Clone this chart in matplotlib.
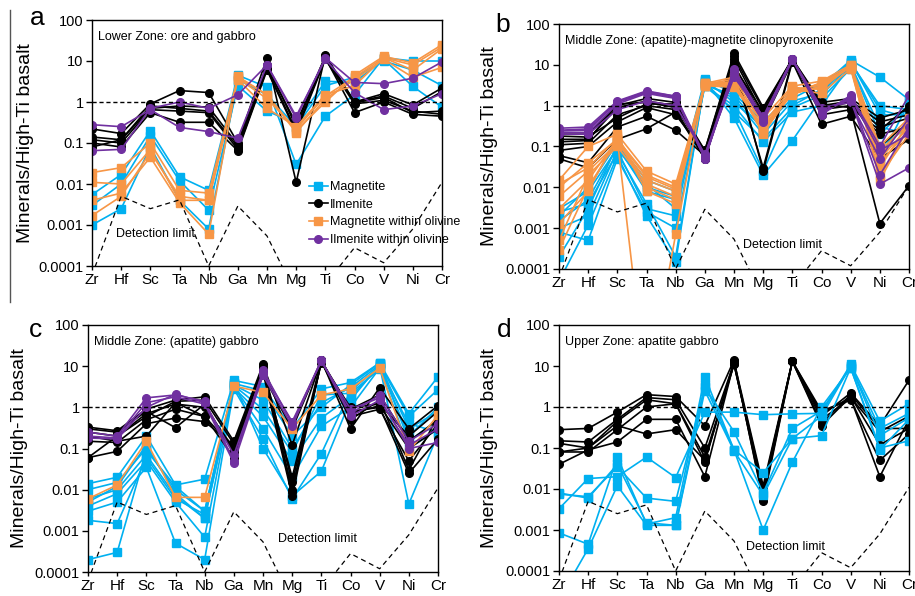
import matplotlib
matplotlib.use('Agg')
import matplotlib.pyplot as plt
from matplotlib.lines import Line2D
from matplotlib.ticker import FixedLocator, FuncFormatter, NullLocator

plt.rcParams['font.family'] = ['Liberation Sans', 'DejaVu Sans']

elements = ['Zr', 'Hf', 'Sc', 'Ta', 'Nb', 'Ga', 'Mn', 'Mg', 'Ti', 'Co', 'V', 'Ni', 'Cr']
detection_limit = [0.00006, 0.005, 0.0025, 0.0041, 0.0001, 0.0029, 0.00054, 0.00002,
                   0.000036, 0.00028, 0.00012, 0.0008, 0.011]

# panel a: Lower Zone
a_magnetite = [
    [0.0055, 0.017, 0.2, 0.015, 0.007, 4.5, 2.3, 0.03, 0.45, 1.5, 12, 10, 10],
    [0.003, 0.01, 0.15, 0.012, 0.0023, 2.5, 0.6, 0.3, 3.2, 3.0, 11, 2.4, 0.75],
    [0.001, 0.0025, 0.08, 0.004, 0.0008, 3.5, 1.5, 0.25, 2.5, 4.0, 10, 6, 2.5],
]
a_ilmenite = [
    [0.22, 0.17, 0.9, 1.9, 1.7, 0.1, 12, 0.011, 14, 1.0, 1.6, 0.85, 2.2],
    [0.14, 0.12, 0.8, 0.7, 0.6, 0.08, 7, 0.3, 13, 0.95, 1.3, 0.55, 0.6],
    [0.12, 0.1, 0.65, 0.6, 0.55, 0.07, 6.5, 0.2, 12, 0.55, 1.0, 0.5, 0.45],
    [0.1, 0.08, 0.55, 0.32, 0.32, 0.065, 6, 0.18, 11, 0.9, 1.1, 0.6, 0.5],
    [0.08, 0.12, 0.7, 0.8, 0.75, 0.09, 8, 0.25, 13, 1.0, 1.4, 0.7, 1.8],
]
a_mag_olivine = [
    [0.019, 0.025, 0.1, 0.007, 0.006, 4.0, 1.5, 0.2, 1.0, 4.5, 13, 9, 25],
    [0.011, 0.01, 0.07, 0.004, 0.004, 3.5, 0.7, 0.25, 1.5, 2.5, 12, 6, 20],
    [0.004, 0.006, 0.045, 0.0035, 0.0006, 4.2, 1.5, 0.18, 1.2, 3.5, 11, 4, 7],
    [0.0017, 0.005, 0.06, 0.005, 0.004, 3.8, 1.2, 0.22, 1.4, 4.0, 12, 8, 22],
]
a_ilm_olivine = [
    [0.28, 0.25, 0.65, 0.24, 0.19, 0.13, 8, 0.4, 12, 3.0, 2.8, 3.8, 9.5],
    [0.065, 0.07, 0.7, 1.0, 0.7, 1.5, 8, 0.45, 11, 1.7, 0.65, 0.8, 1.6],
]

# panel b: Middle Zone clinopyroxenite
b_magnetite = [
    [0.002, 0.01, 0.12, 0.015, 0.008, 4.5, 2.0, 0.4, 2.0, 3.0, 13, 5.0, 1.4],
    [0.0015, 0.005, 0.1, 0.008, 0.005, 3.5, 1.5, 0.2, 1.3, 2.0, 12, 0.8, 0.5],
    [0.001, 0.002, 0.08, 0.003, 0.002, 3.0, 1.0, 0.13, 0.7, 1.0, 10, 0.3, 0.2],
    [0.00005, 0.0012, 0.06, 0.002, 0.00015, 4.0, 0.5, 0.02, 0.14, 1.5, 8, 0.1, 0.3],
    [0.0008, 0.0005, 0.05, 0.0025, 0.001, 3.0, 0.8, 0.025, 1.0, 2.5, 9, 0.05, 1.2],
    [0.003, 0.008, 0.09, 0.01, 0.006, 4.2, 1.2, 0.3, 1.5, 3.5, 11, 1.0, 0.8],
    [0.0025, 0.004, 0.07, 0.004, 0.0002, 3.8, 0.7, 0.15, 0.9, 1.8, 10, 0.2, 1.0],
    [0.0002, 0.003, 0.11, 0.012, 0.003, 3.2, 1.8, 0.25, 2.5, 2.8, 12, 0.6, 0.6],
]
b_ilmenite = [
    [0.2, 0.2, 1.0, 1.5, 1.2, 0.08, 19, 0.9, 14, 1.2, 1.5, 0.5, 0.8],
    [0.15, 0.15, 0.9, 1.3, 1.0, 0.06, 14, 0.6, 13, 0.9, 1.2, 0.3, 0.5],
    [0.11, 0.12, 0.6, 1.0, 0.8, 0.05, 10, 0.5, 14, 0.8, 1.0, 0.2, 0.3],
    [0.08, 0.1, 0.4, 0.9, 0.6, 0.07, 8, 0.03, 13, 0.6, 0.8, 0.0013, 0.011],
    [0.06, 0.04, 0.3, 0.55, 0.25, 0.06, 12, 0.025, 12, 0.35, 0.55, 0.05, 0.15],
    [0.05, 0.03, 0.15, 0.27, 0.7, 0.05, 9, 0.7, 13, 1.0, 1.3, 0.4, 0.6],
    [0.13, 0.14, 1.1, 1.2, 0.9, 0.08, 16, 0.8, 14, 1.1, 0.9, 0.25, 1.0],
    [0.18, 0.17, 0.5, 1.1, 1.1, 0.07, 6, 0.4, 12, 0.7, 1.4, 0.1, 0.4],
]
b_mag_olivine = [
    [0.015, 0.1, 0.2, 0.025, 0.012, 3.5, 5.0, 0.5, 3.0, 4.0, 10, 0.1, 0.5],
    [0.01, 0.04, 0.15, 0.02, 0.01, 3.2, 3.0, 0.3, 2.0, 3.0, 9, 0.05, 0.3],
    [0.006, 0.025, 0.12, 0.015, 0.008, 3.0, 4.0, 0.2, 2.5, 2.0, 8, 0.02, 0.2],
    [0.003, 0.015, 0.15, 1e-7, 0.0007, 3.5, 3.5, 0.25, 2.2, 3.5, 9, 0.03, 0.4],
    [0.0013, 0.008, 0.18, 0.01, 0.005, 3.3, 4.5, 0.35, 2.8, 2.5, 10, 0.04, 0.25],
    [0.0005, 0.02, 0.1, 0.012, 0.006, 3.4, 3.2, 0.4, 1.8, 3.8, 8.5, 0.08, 0.35],
    [0.0003, 0.01, 0.14, 0.018, 0.009, 3.1, 2.8, 0.3, 2.4, 3.2, 9.5, 0.06, 0.45],
    [0.012, 0.03, 0.16, 0.008, 0.004, 3.6, 3.8, 0.22, 2.0, 2.8, 9, 0.015, 0.3],
]
b_ilm_olivine = [
    [0.28, 0.3, 1.3, 2.3, 1.7, 0.06, 8, 0.5, 14, 0.6, 1.8, 0.1, 1.8],
    [0.25, 0.27, 1.2, 2.1, 1.6, 0.05, 7, 0.45, 14, 0.7, 1.5, 0.02, 0.3],
    [0.22, 0.22, 1.1, 2.0, 1.5, 0.055, 6, 0.4, 13, 0.8, 1.4, 0.012, 0.03],
    [0.2, 0.2, 0.8, 1.3, 1.0, 0.065, 5, 0.55, 14, 0.9, 1.2, 0.05, 0.5],
    [0.24, 0.25, 1.25, 2.2, 1.7, 0.05, 7.5, 0.5, 14, 0.65, 1.6, 0.08, 0.2],
]

# panel c: Middle Zone gabbro
c_magnetite = [
    [0.014, 0.02, 0.2, 0.013, 0.018, 4.5, 3.2, 0.3, 2.8, 4.0, 12, 0.7, 5.5],
    [0.01, 0.015, 0.1, 0.01, 0.003, 3.5, 1.5, 0.1, 1.3, 3.0, 11, 0.6, 2.7],
    [0.006, 0.01, 0.07, 0.007, 0.002, 3.0, 0.6, 0.05, 0.55, 1.8, 10, 0.2, 1.0],
    [0.004, 0.008, 0.05, 0.005, 0.0007, 3.2, 0.3, 0.02, 0.35, 1.0, 9, 0.1, 0.3],
    [0.003, 0.005, 0.035, 0.0005, 0.0002, 2.8, 0.17, 0.006, 0.075, 2.5, 10, 0.0045, 0.22],
    [0.0018, 0.0015, 0.06, 0.006, 0.0025, 4.0, 0.1, 0.007, 0.028, 1.5, 11, 0.3, 0.8],
    [0.0002, 0.0003, 0.09, 0.012, 0.003, 3.8, 2.5, 0.2, 1.0, 3.5, 12, 0.15, 0.5],
    [0.005, 0.012, 0.12, 0.008, 0.002, 3.4, 0.9, 0.08, 2.0, 2.2, 8.5, 0.4, 0.25],
]
c_ilmenite = [
    [0.33, 0.27, 0.9, 1.5, 1.8, 0.15, 11, 0.12, 14, 0.3, 3.0, 0.3, 1.1],
    [0.25, 0.2, 0.7, 1.2, 1.0, 0.1, 9, 0.01, 13, 0.5, 1.5, 0.03, 0.6],
    [0.15, 0.14, 0.5, 0.9, 0.6, 0.06, 7, 0.007, 13, 0.8, 1.0, 0.025, 0.17],
    [0.06, 0.085, 0.4, 0.55, 0.45, 0.12, 8, 0.02, 14, 0.6, 0.9, 0.05, 0.4],
    [0.3, 0.25, 0.8, 0.32, 1.2, 0.08, 10, 0.015, 12, 1.0, 1.2, 0.2, 0.8],
    [0.2, 0.15, 0.2, 1.3, 0.6, 0.1, 6, 0.3, 14, 0.7, 1.1, 0.1, 0.3],
    [0.06, 0.2, 0.6, 1.4, 1.5, 0.13, 9.5, 0.009, 13.5, 0.9, 2.0, 0.15, 0.5],
]
c_mag_olivine = [
    [0.006, 0.013, 0.15, 0.0065, 0.0065, 3.3, 2.3, 0.3, 2.0, 2.8, 9, 0.085, 0.65],
]
c_ilm_olivine = [
    [0.25, 0.2, 1.7, 2.0, 1.4, 0.05, 8, 0.4, 14, 0.7, 2.0, 0.15, 0.4],
    [0.2, 0.18, 1.3, 1.8, 1.2, 0.045, 6, 0.35, 14, 0.6, 1.5, 0.12, 0.3],
    [0.18, 0.17, 1.0, 2.1, 1.3, 0.07, 7, 0.45, 13, 0.9, 1.7, 0.1, 0.14],
]

# panel d: Upper Zone
d_magnetite = [
    [0.0075, 0.0065, 0.035, 0.006, 0.005, 3.0, 0.25, 0.008, 0.3, 0.8, 10, 0.3, 0.7],
    [0.0033, 0.018, 0.02, 0.06, 0.019, 0.75, 0.75, 0.65, 0.68, 0.7, 11, 0.45, 1.2],
    [0.00085, 0.00045, 0.06, 0.0014, 0.002, 5.5, 0.09, 0.001, 0.045, 1.0, 9, 0.1, 0.15],
    [0.00002, 0.00035, 0.012, 0.0013, 0.0013, 2.5, 0.085, 0.007, 0.17, 0.2, 9, 0.09, 0.5],
    [0.008, 0.006, 0.04, 0.0015, 0.0013, 3.5, 0.09, 0.025, 0.17, 0.6, 10, 0.2, 0.55],
]
d_ilmenite = [
    [0.28, 0.3, 0.75, 2.0, 1.8, 0.35, 14, 0.005, 13, 0.6, 2.2, 0.35, 4.5],
    [0.15, 0.14, 0.5, 1.7, 1.5, 0.1, 12, 0.01, 13, 0.35, 1.8, 0.12, 0.3],
    [0.13, 0.1, 0.45, 1.5, 1.2, 0.06, 11, 0.008, 13, 0.8, 1.5, 0.05, 0.22],
    [0.08, 0.08, 0.28, 1.0, 1.2, 0.045, 13, 0.012, 13, 0.5, 1.6, 0.02, 0.5],
    [0.04, 0.09, 0.14, 0.5, 0.5, 0.02, 12, 0.006, 13, 0.4, 2.0, 0.3, 0.3],
    [0.08, 0.1, 0.35, 0.22, 0.28, 0.05, 11, 0.009, 13, 0.7, 1.7, 0.25, 0.6],
]

blue = '#00B0F0'
orange = '#F79646'
purple = '#7030A0'

W, H = 915, 596
fig = plt.figure(figsize=(W / 100, H / 100), dpi=100)


def rect(left, top, right, bottom):
    return [left / W, 1 - bottom / H, (right - left) / W, (bottom - top) / H]


def fx(x):
    return x / W


def fy(y):
    return 1 - y / H


panels = [
    dict(box=(92, 20, 442, 266), letter='a', letter_xy=(37, 18), ylab_x=26,
         title='Lower Zone: ore and gabbro', det_xy=(116, 234),
         groups=[(a_magnetite, blue, 's'), (a_ilmenite, 'black', 'o'),
                 (a_mag_olivine, orange, 's'), (a_ilm_olivine, purple, 'o')]),
    dict(box=(559, 24, 909, 269), letter='b', letter_xy=(503, 25), ylab_x=489,
         title='Middle Zone: (apatite)-magnetite clinopyroxenite', det_xy=(743, 245),
         groups=[(b_magnetite, blue, 's'), (b_ilmenite, 'black', 'o'),
                 (b_mag_olivine, orange, 's'), (b_ilm_olivine, purple, 'o')]),
    dict(box=(88, 325, 438, 572), letter='c', letter_xy=(35, 330), ylab_x=20,
         title='Middle Zone: (apatite) gabbro', det_xy=(278, 539),
         groups=[(c_magnetite, blue, 's'), (c_ilmenite, 'black', 'o'),
                 (c_mag_olivine, orange, 's'), (c_ilm_olivine, purple, 'o')]),
    dict(box=(559, 325, 909, 571), letter='d', letter_xy=(504, 330), ylab_x=489,
         title='Upper Zone: apatite gabbro', det_xy=(746, 547),
         groups=[(d_ilmenite, 'black', 'o'), (d_magnetite, blue, 's')]),
]

x = list(range(len(elements)))

for p in panels:
    ax = fig.add_axes(rect(*p['box']))
    ax.set_yscale('log')
    ax.set_ylim(0.0001, 100)
    ax.set_xlim(0, len(elements) - 1)

    for series, color, marker in p['groups']:
        for vals in series:
            ax.plot(x, vals, color=color, marker=marker, ms=5.5, lw=1.2)

    ax.axhline(1, color='black', ls=(0, (3, 2)), lw=1)
    ax.plot(x, detection_limit, color='black', ls=(0, (4, 3)), lw=0.9)

    ax.yaxis.set_major_locator(FixedLocator([0.0001, 0.001, 0.01, 0.1, 1, 10, 100]))
    ax.yaxis.set_minor_locator(NullLocator())
    ax.yaxis.set_major_formatter(FuncFormatter(lambda v, pos: '%g' % v))
    ax.set_xticks(x)
    ax.set_xticklabels(elements, fontsize=11)
    ax.tick_params(axis='y', labelsize=10.5, length=4, width=1, pad=2)
    ax.tick_params(axis='x', length=3, width=1, pad=2)
    for s in ax.spines.values():
        s.set_linewidth(1)

    left, top, right, bottom = p['box']
    ax.text(0.018, 0.93, p['title'], transform=ax.transAxes, fontsize=9,
            ha='left', va='center')
    dx, dy = p['det_xy']
    fig.text(fx(dx), fy(dy), 'Detection limit', fontsize=9, ha='left', va='center')
    lx, ly = p['letter_xy']
    fig.text(fx(lx), fy(ly), p['letter'], fontsize=19, ha='center', va='center')
    fig.text(fx(p['ylab_x']), fy((top + bottom) / 2), 'Minerals/High-Ti basalt',
             fontsize=14, rotation=90, ha='center', va='center')

    if p['letter'] == 'a':
        handles = [Line2D([], [], color=blue, marker='s', ms=5.5, lw=1.2),
                   Line2D([], [], color='black', marker='o', ms=5.5, lw=1.2),
                   Line2D([], [], color=orange, marker='s', ms=5.5, lw=1.2),
                   Line2D([], [], color=purple, marker='o', ms=5.5, lw=1.2)]
        labels = ['Magnetite', 'Ilmenite', 'Magnetite within olivine',
                  'Ilmenite within olivine']
        ax.legend(handles, labels, loc='upper left', bbox_to_anchor=(0.62, 0.345),
                  frameon=False, fontsize=9, handlelength=1.5, handletextpad=0.2,
                  labelspacing=0.45, borderaxespad=0, borderpad=0)

fig.add_artist(Line2D([fx(10), fx(10)], [fy(10), fy(302)], color='#555555', lw=1))

fig.savefig('out.png', dpi=100)
